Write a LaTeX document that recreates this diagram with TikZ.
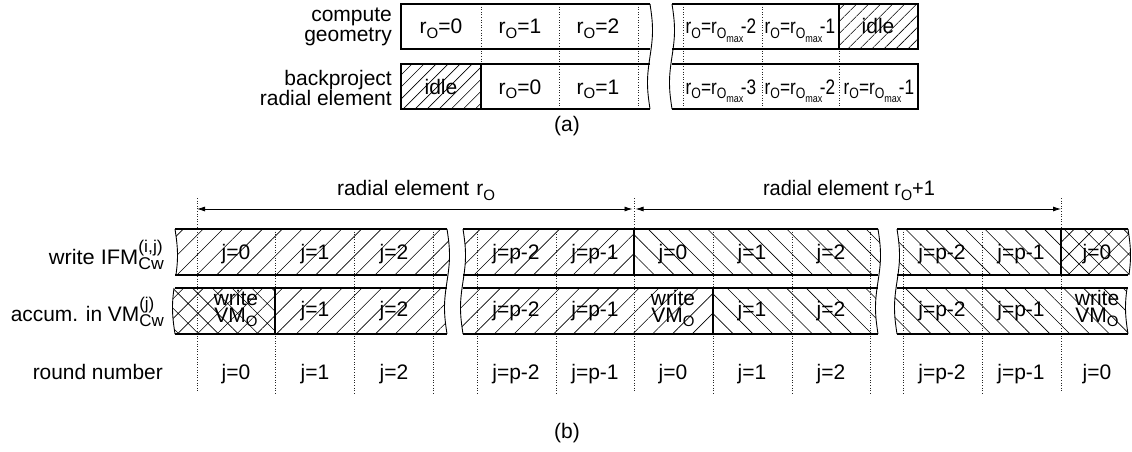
\documentclass[tikz,border=0pt]{standalone}
\usepackage{fontspec}
\setmainfont{Liberation Sans}
\usepackage{graphicx}
\usetikzlibrary{patterns.meta,arrows.meta}

% index helpers
\newcommand\lowO{\raisebox{-5pt}{\fontsize{15}{15}\selectfont O}}
\newcommand\rO{r\lowO}
\newcommand\rOmax{r\raisebox{-5pt}{\fontsize{15}{15}\selectfont O\raisebox{-3.5pt}{\fontsize{11}{11}\selectfont max}}}
\newcommand\rmaxcell[1]{\scalebox{0.82}[1]{\rO=\rOmax\kern-3pt#1}}
\newcommand\VMO{VM\raisebox{-4pt}{\fontsize{15}{15}\selectfont O}}
\newcommand\supsub[2]{\rlap{\raisebox{12pt}{\fontsize{17}{17}\selectfont #1}}\raisebox{-5pt}{\fontsize{17}{17}\selectfont #2}}
% set a text to a given width, keeping its height
\newcommand\fitw[2]{\resizebox{#1}{\height}{#2}}

% hatched area between two (possibly wavy) vertical edges
% #1 style, #2 left x, #3 left amplitude, #4 right x, #5 right amplitude, #6 top y, #7 bottom y
\newcommand\wavefill[7]{%
  \path[#1] plot[variable=\yy,domain=#6:#7,samples=30] ({#4+#5*sin((\yy-229)*3.43)},\yy)
    -- plot[variable=\yy,domain=#7:#6,samples=30] ({#2+#3*sin((\yy-229)*3.43)},\yy) -- cycle;}
% wavy break line: #1 x, #2 top y, #3 bottom y, #4 phase origin
\newcommand\waveline[4]{%
  \draw[brk] plot[variable=\yy,domain=#2:#3,samples=40,smooth] ({#1+2.5*sin((\yy-#4)*3.43)},\yy);}

\tikzset{
  frame/.style={line width=1.1pt},
  brk/.style={line width=0.9pt},
  grid/.style={line width=0.6pt, black!85, dash pattern=on 1pt off 1.6pt},
  idlehatch/.style={pattern={Lines[angle=45,distance=8.5pt,line width=0.6pt]}},
  ne/.style={pattern={Lines[angle=45,distance=14pt,line width=0.6pt]}},
  nw/.style={pattern={Lines[angle=-45,distance=14pt,line width=0.6pt]}},
  xh/.style={pattern={Hatch[angle=45,distance=14pt,line width=0.6pt]}},
  lbl/.style={font=\fontsize{21}{20}\selectfont, inner sep=0pt},
  cell/.style={lbl, anchor=base},
  wcell/.style={lbl, align=center, anchor=north},
  dim/.style={line width=0.8pt, {Latex[length=8pt,width=5pt]}-{Latex[length=8pt,width=5pt]}},
}

\begin{document}
\begin{tikzpicture}[x=1pt,y=-1pt]
\useasboundingbox (0,0) rectangle (1132,452);

% ---------------- (a) pipeline of the two stages ----------------
\path[idlehatch] (839,4) rectangle (918,49);
\path[idlehatch] (401,64) rectangle (481,109);
\foreach \x in {481,559,638,683,762,839}
  \draw[grid] (\x,4) -- (\x,109);
\draw[frame] (650,4) -- (401,4) -- (401,49) -- (650,49);
\draw[frame] (650,64) -- (401,64) -- (401,109) -- (650,109);
\draw[frame] (672,4) -- (918,4) -- (918,49) -- (672,49);
\draw[frame] (672,64) -- (918,64) -- (918,109) -- (672,109);
\draw[frame] (839,4) -- (839,49);
\draw[frame] (481,64) -- (481,109);
\waveline{650}{4}{109}{4}
\waveline{672}{4}{109}{4}

\node[lbl, align=right, anchor=east] (lgeo) at (392,27) {compute\\geometry};
\node[lbl, align=right, anchor=east] (lbp) at (392,88) {backproject\\radial element};

\node[cell] (g0) at (441,34) {\rO=0};
\node[cell] (g1) at (520,34) {\rO=1};
\node[cell] (g2) at (598,34) {\rO=2};
\node[cell] (g3) at (721,34) {\rmaxcell{-2}};
\node[cell] (g4) at (800,34) {\rmaxcell{-1}};
\node[cell] (g5) at (878,34) {idle};

\node[cell] (b0) at (441,94) {idle};
\node[cell] (b1) at (520,94) {\rO=0};
\node[cell] (b2) at (598,94) {\rO=1};
\node[cell] (b3) at (721,94) {\rmaxcell{-3}};
\node[cell] (b4) at (800,94) {\rmaxcell{-2}};
\node[cell] (b5) at (879,94) {\rmaxcell{-1}};

\node[lbl] (capa) at (567,126) {(a)};

% ---------------- (b) rounds within radial elements ----------------
% row 1: write IFM
\wavefill{ne}{175}{2.5}{447}{2.5}{229}{275}
\wavefill{ne}{463}{2.5}{634}{0}{229}{275}
\wavefill{nw}{634}{0}{878}{2.5}{229}{275}
\wavefill{nw}{897}{2.5}{1061}{0}{229}{275}
\wavefill{xh}{1061}{0}{1128}{2.5}{229}{275}
% row 2: accumulate
\wavefill{xh}{175}{2.5}{275}{0}{288}{334}
\wavefill{ne}{275}{0}{447}{2.5}{288}{334}
\wavefill{ne}{463}{2.5}{713}{0}{288}{334}
\wavefill{nw}{713}{0}{878}{2.5}{288}{334}
\wavefill{nw}{897}{2.5}{1128}{2.5}{288}{334}

\foreach \x in {197,634,1061}
  \draw[grid] (\x,198) -- (\x,393);
\foreach \x in {275,354,433,477,556,713,792,870,903,982}
  \draw[grid] (\x,229) -- (\x,393);

\foreach \y in {229,275,288,334}{
  \draw[frame] (175,\y) -- (447,\y);
  \draw[frame] (463,\y) -- (878,\y);
  \draw[frame] (897,\y) -- (1128,\y);
}
\draw[frame] (634,229) -- (634,275);
\draw[frame] (1061,229) -- (1061,275);
\draw[frame] (275,288) -- (275,334);
\draw[frame] (713,288) -- (713,334);
\waveline{447}{229}{334}{229}
\waveline{463}{229}{334}{229}
\waveline{878}{229}{334}{229}
\waveline{897}{229}{334}{229}
\waveline{175}{229}{275}{229}
\waveline{175}{288}{334}{229}
\waveline{1128}{229}{275}{229}
\waveline{1128}{288}{334}{229}

% extent of the radial elements
\coordinate (aL) at (197,209);
\coordinate (aM) at (634,209);
\coordinate (aR) at (1061,209);
\draw[dim, shorten >=1.5pt] (aL) -- (aM);
\draw[dim, shorten <=1.5pt] (aM) -- (aR);
\node[cell] (t0) at (416,195) {\fitw{158pt}{radial element\hspace{7pt}\rO}};
\node[cell] (t1) at (849,195) {\fitw{172pt}{radial element\hspace{6pt}\rO+1}};

\node[lbl, anchor=base east] (lw) at (164,264) {\fitw{115pt}{write IFM\supsub{(i,j)}{Cw}}};
\node[lbl, anchor=base east] (la) at (164,321) {\fitw{153pt}{accum. in VM\supsub{(j)}{Cw}}};
\node[lbl, anchor=base east] (lr) at (163,379) {\fitw{130pt}{round number}};

\foreach \x/\t [count=\i] in {236/j=0,315/j=1,394/j=2,516/j=p-2,595/j=p-1,673/j=0,752/j=1,831/j=2,942/j=p-2,1021/j=p-1,1097/j=0}{
  \node[cell] (w\i) at (\x,259) {\t};
  \node[cell] (r\i) at (\x,379) {\t};
}
\foreach \x/\t [count=\i] in {315/j=1,394/j=2,516/j=p-2,595/j=p-1,752/j=1,831/j=2,942/j=p-2,1021/j=p-1}
  \node[cell] (c\i) at (\x,316) {\t};
\node[wcell] (vm0) at (236,290) {write\\[-3pt]\VMO};
\node[wcell] (vm1) at (673,290) {write\\[-3pt]\VMO};
\node[wcell] (vm2) at (1097,290) {write\\[-3pt]\VMO};

\node[lbl] (capb) at (567,433) {(b)};
\end{tikzpicture}
\end{document}
